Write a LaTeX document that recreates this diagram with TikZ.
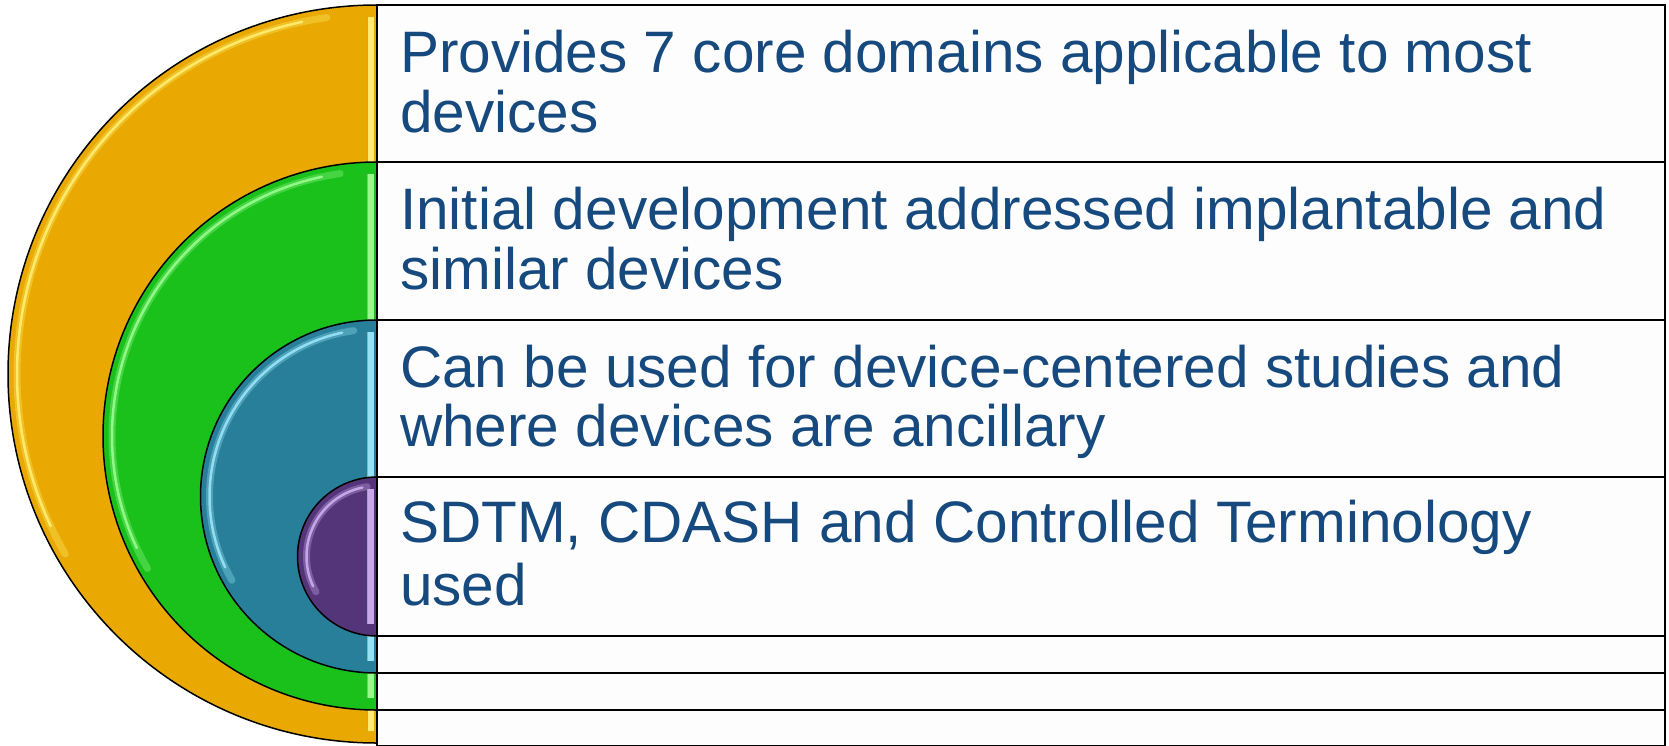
\documentclass[tikz,border=0pt]{standalone}
\usepackage{fontspec}
\setmainfont{Liberation Sans}
\definecolor{txtblue}{RGB}{22,74,126}
\definecolor{ringgold}{RGB}{233,169,2}
\definecolor{ringgoldhi}{RGB}{255,236,110}
\definecolor{ringgreen}{RGB}{27,193,27}
\definecolor{ringgreenhi}{RGB}{150,250,140}
\definecolor{ringteal}{RGB}{39,127,154}
\definecolor{ringtealhi}{RGB}{150,225,245}
\definecolor{ringpurple}{RGB}{84,53,122}
\definecolor{ringpurplehi}{RGB}{200,170,235}
\definecolor{boxfill}{RGB}{253,253,253}
\tikzset{
  ring/.style={fill=#1, draw=black, line width=1.5},
  glow/.style={draw=#1, line width=7, line cap=round, opacity=0.35},
  gloss/.style={draw=#1, line width=2.5, line cap=round, opacity=0.95},
  rowbox/.style={fill=boxfill, draw=black, line width=2},
  rowtext/.style={anchor=base west, inner sep=0pt, text=txtblue,
    font=\fontsize{58.5}{60}\selectfont}
}
% one half disc of radius #3 centred on (#1,#2), opening to the right,
% with a soft highlight along its rim and its straight edge
\newcommand\halfdisc[5]{%
  \path[ring=#4] (#1,#2) ++(0,-#3) arc[start angle=270, end angle=90, radius=#3] -- cycle;
  \path[glow=#5] (#1,#2) ++(150:#3-9) arc[start angle=150, end angle=262, radius=#3-9];
  \path[gloss=#5] (#1,#2) ++(155:#3-9) arc[start angle=155, end angle=258, radius=#3-9];
  \fill[#5] (#1-10,#2-#3+12) rectangle (#1-3,#2+#3-12);
  \draw[black!35, line width=0.8] (#1-10,#2-#3+12) -- (#1-10,#2+#3-12);
}
\begin{document}
\begin{tikzpicture}[x=1pt,y=-1pt]
\useasboundingbox (0,0) rectangle (1669,745);

% nested half discs, outermost first
\halfdisc{377}{374}{369}{ringgold}{ringgoldhi}
\halfdisc{377}{436}{274}{ringgreen}{ringgreenhi}
\halfdisc{377}{496.5}{176.5}{ringteal}{ringtealhi}
\halfdisc{377}{556.5}{79.5}{ringpurple}{ringpurplehi}

% text rows to the right of the discs
\draw[rowbox] (377,5)   rectangle (1665,162);
\draw[rowbox] (377,162) rectangle (1665,320);
\draw[rowbox] (377,320) rectangle (1665,477);
\draw[rowbox] (377,477) rectangle (1665,636);
\draw[rowbox] (377,636) rectangle (1665,673);
\draw[rowbox] (377,673) rectangle (1665,710);
\draw[rowbox] (377,710) rectangle (1665,746);

\node[rowtext] (r1a) at (400,72)  {Provides 7 core domains applicable to most};
\node[rowtext] (r1b) at (400,132) {devices};
\node[rowtext] (r2a) at (400,229) {Initial development addressed implantable and};
\node[rowtext] (r2b) at (400,289) {similar devices};
\node[rowtext] (r3a) at (400,387) {Can be used for device-centered studies and};
\node[rowtext] (r3b) at (400,446) {where devices are ancillary};
\node[rowtext] (r4a) at (400,542) {SDTM, CDASH and Controlled Terminology};
\node[rowtext] (r4b) at (400,605) {used};
\end{tikzpicture}
\end{document}
